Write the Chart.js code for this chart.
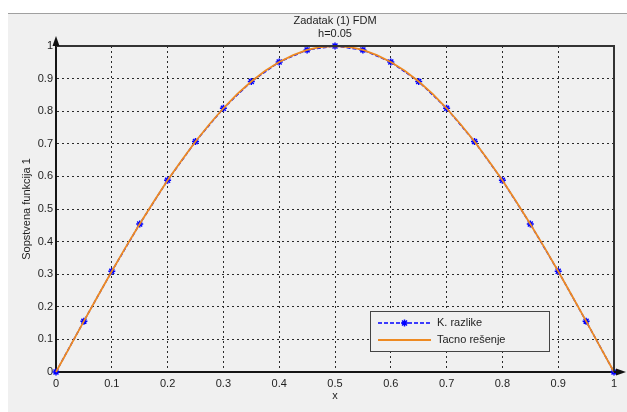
<!DOCTYPE html>
<html>
<head>
<meta charset="utf-8">
<title>Zadatak (1) FDM</title>
<script src="https://cdn.jsdelivr.net/npm/chart.js@4.4.1/dist/chart.umd.min.js"></script>
<style>
  html, body { margin: 0; padding: 0; background: #fff; }
  #wrap { position: relative; width: 627px; height: 412px; }
</style>
</head>
<body>
<div id="wrap"><canvas id="fdmChart" width="627" height="412"></canvas></div>
<script>
  // Grid nodes (h = 0.05) and the finite-difference eigenfunction
  const xNodes = [0, 0.05, 0.1, 0.15, 0.2, 0.25, 0.3, 0.35, 0.4, 0.45, 0.5,
                  0.55, 0.6, 0.65, 0.7, 0.75, 0.8, 0.85, 0.9, 0.95, 1];
  const fdmValues = [0, 0.156, 0.309, 0.454, 0.588, 0.707, 0.809, 0.891, 0.951, 0.988, 1,
                     0.988, 0.951, 0.891, 0.809, 0.707, 0.588, 0.454, 0.309, 0.156, 0];

  // Exact solution on a finer grid
  const xFine = [0, 0.025, 0.05, 0.075, 0.1, 0.125, 0.15, 0.175, 0.2, 0.225, 0.25,
                 0.275, 0.3, 0.325, 0.35, 0.375, 0.4, 0.425, 0.45, 0.475, 0.5,
                 0.525, 0.55, 0.575, 0.6, 0.625, 0.65, 0.675, 0.7, 0.725, 0.75,
                 0.775, 0.8, 0.825, 0.85, 0.875, 0.9, 0.925, 0.95, 0.975, 1];
  const exactValues = [0, 0.078, 0.156, 0.233, 0.309, 0.383, 0.454, 0.522, 0.588, 0.649, 0.707,
                       0.760, 0.809, 0.853, 0.891, 0.924, 0.951, 0.972, 0.988, 0.997, 1,
                       0.997, 0.988, 0.972, 0.951, 0.924, 0.891, 0.853, 0.809, 0.760, 0.707,
                       0.649, 0.588, 0.522, 0.454, 0.383, 0.309, 0.233, 0.156, 0.078, 0];

  const tickValues = [0, 0.1, 0.2, 0.3, 0.4, 0.5, 0.6, 0.7, 0.8, 0.9, 1];
  const tickLabels = ['0', '0.1', '0.2', '0.3', '0.4', '0.5', '0.6', '0.7', '0.8', '0.9', '1'];

  const seriesNames = ['K. razlike', 'Tacno rešenje'];
  const titleLines = ['Zadatak (1) FDM', 'h=0.05'];

  const FONT = 'Arial, "Liberation Sans", Helvetica, sans-serif';
  const TEXT = '#1e1e1e';
  const BLUE = '#0000ff';
  const ORANGE = '#ee8a22';
  const BG = '#f0f0f0';

  const fixedTicks = scale => {
    scale.ticks = tickValues.map(v => ({ value: v }));
  };
  const tickText = (value) => {
    const i = tickValues.findIndex(t => Math.abs(t - value) < 1e-9);
    return i >= 0 ? tickLabels[i] : '';
  };

  // Window background: white strip on top, grey figure panel below
  const panel = {
    id: 'panel',
    beforeDraw(chart) {
      const { ctx, width, height } = chart;
      ctx.save();
      ctx.fillStyle = '#ffffff';
      ctx.fillRect(0, 0, width, height);
      ctx.fillStyle = BG;
      ctx.fillRect(8, 13, width - 8, height - 13);
      ctx.strokeStyle = '#a0a0a0';
      ctx.lineWidth = 1;
      ctx.beginPath();
      ctx.moveTo(8, 13.5);
      ctx.lineTo(width, 13.5);
      ctx.stroke();
      ctx.restore();
    }
  };

  // Box top/right edges, axis arrows and the legend inside the plot
  const frame = {
    id: 'frame',
    afterDraw(chart) {
      const { ctx, chartArea: a } = chart;
      ctx.save();
      ctx.strokeStyle = '#333';
      ctx.lineWidth = 2;
      ctx.beginPath();
      ctx.moveTo(a.left, a.top);
      ctx.lineTo(a.right, a.top);
      ctx.lineTo(a.right, a.bottom);
      ctx.stroke();

      // arrows
      ctx.fillStyle = '#111';
      ctx.beginPath();
      ctx.moveTo(a.left, a.top - 10);
      ctx.lineTo(a.left - 3.5, a.top);
      ctx.lineTo(a.left + 3.5, a.top);
      ctx.closePath();
      ctx.fill();
      ctx.beginPath();
      ctx.moveTo(a.right + 12, a.bottom);
      ctx.lineTo(a.right + 2, a.bottom - 3.5);
      ctx.lineTo(a.right + 2, a.bottom + 3.5);
      ctx.closePath();
      ctx.fill();
      ctx.strokeStyle = '#111';
      ctx.lineWidth = 2;
      ctx.beginPath();
      ctx.moveTo(a.right, a.bottom);
      ctx.lineTo(a.right + 4, a.bottom);
      ctx.stroke();

      // legend
      const lx = 370.5, ly = 311.5, lw = 179, lh = 40;
      ctx.fillStyle = BG;
      ctx.fillRect(lx, ly, lw, lh);
      ctx.strokeStyle = '#444';
      ctx.lineWidth = 1;
      ctx.strokeRect(lx, ly, lw, lh);

      const y1 = 323, y2 = 340, x0 = 378, x1 = 431;
      ctx.strokeStyle = BLUE;
      ctx.lineWidth = 1.5;
      ctx.setLineDash([4, 2]);
      ctx.beginPath();
      ctx.moveTo(x0, y1);
      ctx.lineTo(x1, y1);
      ctx.stroke();
      ctx.setLineDash([]);
      Chart.helpers.drawPoint(ctx, { pointStyle: 'star', radius: 3.5, borderWidth: 1.5 }, (x0 + x1) / 2, y1);

      ctx.strokeStyle = ORANGE;
      ctx.lineWidth = 2;
      ctx.beginPath();
      ctx.moveTo(x0, y2);
      ctx.lineTo(x1, y2);
      ctx.stroke();

      ctx.fillStyle = TEXT;
      ctx.font = '11px ' + FONT;
      ctx.textBaseline = 'middle';
      ctx.textAlign = 'left';
      ctx.fillText(seriesNames[0], 437, y1);
      ctx.fillText(seriesNames[1], 437, y2);
      ctx.restore();
    }
  };

  const axisCommon = {
    type: 'linear',
    min: 0,
    max: 1,
    afterBuildTicks: fixedTicks,
    grid: { color: '#2a2a2a', lineWidth: 1, drawTicks: false },
    border: { display: true, color: '#151515', width: 2, dash: [2, 3] }
  };

  new Chart(document.getElementById('fdmChart'), {
    type: 'scatter',
    data: {
      datasets: [
        {
          label: seriesNames[0],
          data: xNodes.map((x, i) => ({ x, y: fdmValues[i] })),
          showLine: true,
          borderColor: BLUE,
          backgroundColor: BLUE,
          borderWidth: 1.5,
          borderDash: [4, 2],
          pointStyle: 'star',
          pointRadius: 3.5,
          pointBorderWidth: 1.5,
          pointBorderColor: BLUE,
          order: 1,
          clip: false
        },
        {
          label: seriesNames[1],
          data: xFine.map((x, i) => ({ x, y: exactValues[i] })),
          showLine: true,
          borderColor: ORANGE,
          borderWidth: 1.8,
          pointRadius: 0,
          order: 0,
          clip: false
        }
      ]
    },
    options: {
      responsive: false,
      animation: false,
      layout: { padding: { left: 0, right: 13, top: 0, bottom: 0 } },
      plugins: {
        legend: { display: false },
        tooltip: { enabled: false },
        title: {
          display: true,
          fullSize: false,
          text: titleLines,
          color: TEXT,
          font: { family: FONT, size: 11, weight: 'normal', lineHeight: '13px' },
          padding: { top: 14.5, bottom: 5.5 }
        }
      },
      scales: {
        x: Object.assign({}, axisCommon, {
          position: 'bottom',
          afterFit: s => { s.height = 40; },
          ticks: { color: TEXT, padding: 5, font: { family: FONT, size: 11 }, callback: tickText, maxRotation: 0 },
          title: { display: true, text: 'x', color: TEXT, font: { family: FONT, size: 11 }, padding: { top: 0, bottom: 9 } }
        }),
        y: Object.assign({}, axisCommon, {
          position: 'left',
          afterFit: s => { s.width = 56; },
          ticks: { color: TEXT, padding: 3, font: { family: FONT, size: 11 }, callback: tickText },
          title: { display: true, text: 'Sopstvena funkcija 1', color: TEXT, font: { family: FONT, size: 11 }, padding: { top: 20, bottom: 0 } }
        })
      }
    },
    plugins: [panel, frame]
  });
</script>
</body>
</html>
